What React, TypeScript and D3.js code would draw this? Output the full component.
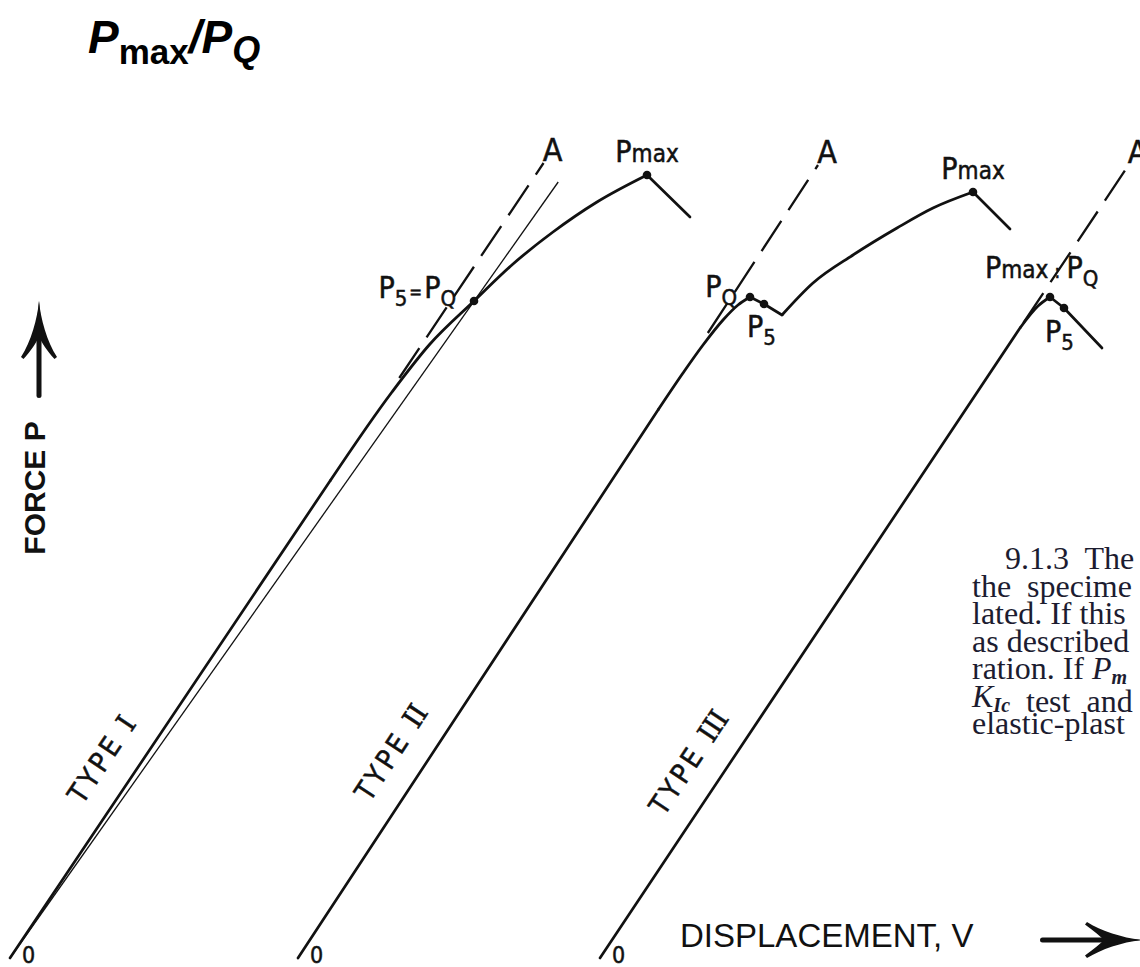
import React from "react";
import * as d3 from "d3";

type Pt = [number, number];

const WIDTH = 1140;
const HEIGHT = 967;

// Schematic units for displacement V and force P
const displacementDomain: Pt = [0, 113];
const forceDomain: Pt = [0, 80];

// Three record types, each starting from its own displacement origin
const recordNames = ["TYPE ", "TYPE ", "TYPE "];
const recordNumerals = ["I", "II", "III"];
const recordStarts = [0, 28.8, 59.0];
const initialSlopes = [1.49, 1.525, 1.5];
const secantFraction = 0.95;

// Type I: linear loading, then smooth nonlinear rise to Pmax
const typeILoading: Pt[] = [[0, 0], [32.0, 47.7]];
const typeIBend: Pt[] = [
  [32.0, 47.7], [38.2, 56.6], [42.0, 61.4], [46.4, 65.7],
  [50.3, 69.4], [54.3, 72.6], [58.7, 75.6], [63.7, 78.3],
];
const typeIDrop: Pt[] = [[63.7, 78.3], [68.0, 74.1]];
const typeIP5: Pt = [46.4, 65.7];
const typeIPmax: Pt = [63.7, 78.3];

// Type II: pop-in after PQ, then recovery to Pmax
const typeIILoading: Pt[] = [[0, 0], [36.0, 54.8]];
const typeIIBend: Pt[] = [[36.0, 54.8], [38.5, 58.5], [40.5, 61.3], [42.5, 63.8], [44.0, 65.3], [45.2, 66.1]];
const typeIIPopIn: Pt[] = [[45.2, 66.1], [46.6, 65.4], [48.4, 64.3]];
const typeIIRecovery: Pt[] = [[48.4, 64.3], [51.5, 67.5], [55.5, 70.3], [59.9, 73.0], [63.5, 75.0], [67.5, 76.6]];
const typeIIDrop: Pt[] = [[67.5, 76.6], [71.2, 72.9]];
const typeIIPQ: Pt = [45.2, 66.1];
const typeIIP5: Pt = [46.6, 65.4];
const typeIIPmax: Pt = [67.5, 76.6];

// Type III: maximum load reached before the 5% secant
const typeIIILoading: Pt[] = [[0, 0], [42.0, 63.0]];
const typeIIIBend: Pt[] = [[42.0, 63.0], [43.8, 65.2], [45.0, 66.1]];
const typeIIIDrop: Pt[] = [[45.0, 66.1], [46.4, 65.0], [50.2, 61.0]];
const typeIIIPQ: Pt = [45.0, 66.1];
const typeIIIP5: Pt = [46.4, 65.0];

// Force span of each dashed tangent line O-A
const tangentForceRanges: Pt[] = [[58, 79.5], [62.5, 79.3], [63.5, 79.3]];
// Top of the 95% secant line on the Type I record
const secantTopForce = 77.6;
// Force level where each type name sits along its record
const typeLabelForces = [19.3, 20, 19];

// Excerpt of the standard's text beside the figure
const noteLines: [string, string][][] = [
  [["9.1.3  The", "r"]],
  [["the  specime", "r"]],
  [["lated. If this", "r"]],
  [["as described", "r"]],
  [["ration. If ", "r"], ["P", "i"], ["m", "s"]],
  [["K", "i"], ["Ic", "s"], ["  test  and", "r"]],
  [["elastic-plast", "r"]],
];

const xScale = d3.scaleLinear().domain(displacementDomain).range([10, 1140]);
const yScale = d3.scaleLinear().domain(forceDomain).range([958, 158]);

const labelFont = '"DejaVu Sans Condensed", "DejaVu Sans", sans-serif';
const sansFont = '"Liberation Sans", Arial, sans-serif';
const ink = "#111";
const letterStroke = { stroke: ink, strokeWidth: 0.5 };

function Record({ index, smooth, straight, dots }: { index: number; smooth: Pt[][]; straight: Pt[][]; dots: Pt[] }) {
  const off = recordStarts[index];
  const X = (v: number) => xScale(off + v);
  const Y = (p: number) => yScale(p);
  const smoothLine = d3.line<Pt>().x((d) => X(d[0])).y((d) => Y(d[1])).curve(d3.curveMonotoneX);
  const straightLine = d3.line<Pt>().x((d) => X(d[0])).y((d) => Y(d[1]));
  const k = initialSlopes[index];
  const [f0, f1] = tangentForceRanges[index];
  const tangent: Pt[] = [[f0 / k, f0], [f1 / k, f1]];
  const top = tangent[1];
  // type name placed beside the straight loading line
  const lf = typeLabelForces[index];
  const lx = X(lf / k) - 30;
  const ly = Y(lf);
  const pxSlope = ((Y(0) - Y(1)) / (X(1) - X(0))) * k;
  const angle = (-Math.atan(pxSlope) * 180) / Math.PI;
  return (
    <g>
      {smooth.map((s, i) => (
        <path key={"s" + i} d={smoothLine(s) || ""} fill="none" stroke={ink} strokeWidth={2.8} strokeLinejoin="round" />
      ))}
      {straight.map((s, i) => (
        <path key={"l" + i} d={straightLine(s) || ""} fill="none" stroke={ink} strokeWidth={2.7} strokeLinejoin="round" strokeLinecap="round" />
      ))}
      <path d={straightLine(tangent) || ""} fill="none" stroke={ink} strokeWidth={2.3} strokeDasharray="36 13" />
      {dots.map((d, i) => (
        <circle key={"d" + i} cx={X(d[0])} cy={Y(d[1])} r={4.3} fill={ink} />
      ))}
      <text x={X(top[0]) + 9} y={Y(top[1]) - 2} fontFamily={labelFont} fontSize={32} textAnchor="middle" fill={ink} {...letterStroke}>
        A
      </text>
      <text x={X(0) + 12} y={Y(0) + 5} fontFamily={labelFont} fontSize={23} fill={ink} {...letterStroke}>
        0
      </text>
      <text
        transform={`translate(${lx},${ly}) rotate(${angle})`}
        textAnchor="middle"
        fontFamily={labelFont}
        fontSize={28}
        letterSpacing={3.5}
        fill={ink}
        {...letterStroke}
      >
        {recordNames[index]}
        <tspan fontFamily='"DejaVu Serif", serif' letterSpacing={-1}>
          {recordNumerals[index]}
        </tspan>
      </text>
    </g>
  );
}

function PmaxLabel({ x, y }: { x: number; y: number }) {
  return (
    <text x={x} y={y} textAnchor="middle" fontFamily={labelFont} fontSize={30} fill={ink} {...letterStroke}>
      P<tspan fontSize={24}>max</tspan>
    </text>
  );
}

export default function App() {
  const P = (off: number, d: Pt) => [xScale(off + d[0]), yScale(d[1])];

  const k1 = initialSlopes[0] * secantFraction;
  const secant: Pt[] = [[0, 0], [secantTopForce / k1, secantTopForce]];
  const secantLine = d3.line<Pt>().x((d) => xScale(recordStarts[0] + d[0])).y((d) => yScale(d[1]));

  const [i5x, i5y] = P(recordStarts[0], typeIP5);
  const [imx, imy] = P(recordStarts[0], typeIPmax);
  const [iiqx, iiqy] = P(recordStarts[1], typeIIPQ);
  const [ii5x, ii5y] = P(recordStarts[1], typeIIP5);
  const [iimx, iimy] = P(recordStarts[1], typeIIPmax);
  const [iiiqx, iiiqy] = P(recordStarts[2], typeIIIPQ);
  const [iii5x, iii5y] = P(recordStarts[2], typeIIIP5);

  const noteX = 972;
  const noteIndent = 33;
  const noteTop = 569;
  const noteStep = 27.5;

  return (
    <svg
      width={WIDTH}
      height={HEIGHT}
      viewBox={`0 0 ${WIDTH} ${HEIGHT}`}
      style={{ position: "absolute", left: 0, top: 0, background: "#fff" }}
    >
      <rect width={WIDTH} height={HEIGHT} fill="#fff" />

      {/* title */}
      <text x={88} y={53} fontFamily={sansFont} fontWeight="bold" fontSize={46} fontStyle="italic" fill="#000">
        P
        <tspan fontStyle="normal" fontSize={35} dy={11}>max</tspan>
        <tspan dy={-11}>/P</tspan>
        <tspan fontSize={36} dy={9}>Q</tspan>
      </text>

      {/* force axis arrow and label */}
      <g fill={ink}>
        <rect x={36.5} y={328} width={5} height={70} rx={2.5} />
        <path d="M39,301 C37.5,318 31,342 21,357 L23.5,359 C31,351 36,343 39,337 C42,343 47,351 54.5,359 L57,357 C47,342 40.5,318 39,301 Z" />
        <path d="M39,301 C38,312 36.5,325 36,336 L42,336 C41.5,325 40,312 39,301 Z" />
      </g>
      <text transform="translate(45,488) rotate(-90)" textAnchor="middle" fontFamily={sansFont} fontWeight="bold" fontSize={30} fill={ink}>
        FORCE P
      </text>

      {/* displacement axis label and arrow */}
      <text x={680} y={947} fontFamily={sansFont} fontSize={33} fill={ink}>
        DISPLACEMENT, V
      </text>
      <g fill={ink}>
        <rect x={1040} y={937.5} width={80} height={5} rx={2.5} />
        <path d="M1142,940 C1125,938.5 1101,931 1087,922 L1085,924.5 C1094,931 1101,937 1104,940 C1101,943 1094,949 1085,955.5 L1087,958 C1101,949 1125,941.5 1142,940 Z" />
        <path d="M1142,940 C1131,939 1118,938 1106,937 L1106,943 C1118,942 1131,941 1142,940 Z" />
      </g>

      {/* Type I secant (95% slope) */}
      <path d={secantLine(secant) || ""} fill="none" stroke={ink} strokeWidth={1.3} />

      <Record index={0} smooth={[typeIBend]} straight={[typeILoading, typeIDrop]} dots={[typeIP5, typeIPmax]} />
      <Record
        index={1}
        smooth={[typeIIBend, typeIIRecovery]}
        straight={[typeIILoading, typeIIPopIn, typeIIDrop]}
        dots={[typeIIPQ, typeIIP5, typeIIPmax]}
      />
      <Record index={2} smooth={[typeIIIBend]} straight={[typeIIILoading, typeIIIDrop]} dots={[typeIIIPQ, typeIIIP5]} />

      {/* key load labels */}
      <text x={i5x - 18} y={i5y - 3} textAnchor="end" fontFamily={labelFont} fontSize={30} fill={ink} {...letterStroke}>
        P<tspan fontSize={22} dy={8}>5</tspan>
        <tspan fontSize={17} dy={-8} dx={2}>=</tspan>
        <tspan dx={2}>P</tspan>
        <tspan fontSize={22} dy={8}>Q</tspan>
      </text>
      <PmaxLabel x={imx} y={imy - 13} />

      <text x={iiqx - 13} y={iiqy} textAnchor="end" fontFamily={labelFont} fontSize={30} fill={ink} {...letterStroke}>
        P<tspan fontSize={22} dy={8}>Q</tspan>
      </text>
      <text x={ii5x - 17} y={ii5y + 33} fontFamily={labelFont} fontSize={30} fill={ink} {...letterStroke}>
        P<tspan fontSize={22} dy={8}>5</tspan>
      </text>
      <PmaxLabel x={iimx} y={iimy - 13} />

      <text x={iiiqx - 65} y={iiiqy - 19} fontFamily={labelFont} fontSize={30} fill={ink} {...letterStroke}>
        P<tspan fontSize={24}>max</tspan>
        <tspan fontSize={20} dx={6}>:</tspan>
        <tspan dx={6}>P</tspan>
        <tspan fontSize={22} dy={8}>Q</tspan>
      </text>
      <text x={iii5x - 19} y={iii5y + 34} fontFamily={labelFont} fontSize={30} fill={ink} {...letterStroke}>
        P<tspan fontSize={22} dy={8}>5</tspan>
      </text>

      {/* text excerpt */}
      <g fontFamily='"Liberation Serif", "Times New Roman", serif' fontSize={32} fill="#1c1c30">
        {noteLines.map((parts, i) => (
          <text key={i} x={i === 0 ? noteX + noteIndent : noteX} y={noteTop + i * noteStep} style={{ whiteSpace: "pre" }}>
            {parts.map(([t, s], j) =>
              s === "r" ? (
                <tspan key={j}>{t}</tspan>
              ) : s === "i" ? (
                <tspan key={j} fontStyle="italic">{t}</tspan>
              ) : (
                <tspan key={j} fontStyle="italic" fontWeight="bold" fontSize={20} dy={5}>{t}</tspan>
              )
            )}
          </text>
        ))}
      </g>
    </svg>
  );
}
